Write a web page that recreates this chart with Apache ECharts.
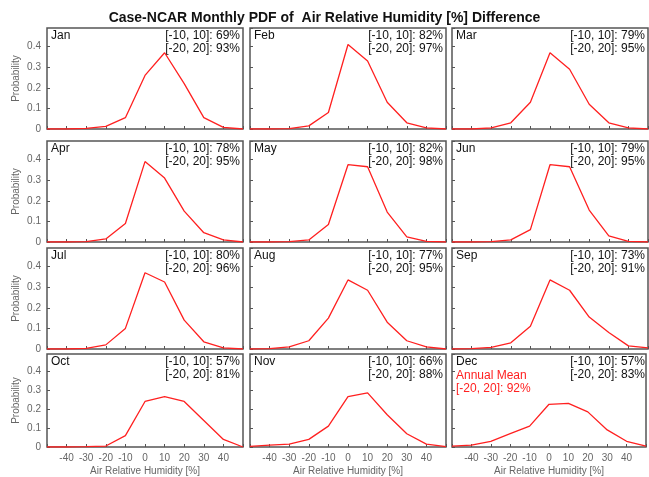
<!DOCTYPE html>
<html><head><meta charset="utf-8">
<script src="https://cdn.jsdelivr.net/npm/echarts@6/dist/echarts.min.js"></script>
<style>html,body{margin:0;padding:0;background:#fff}#c{width:649px;height:477px}</style>
</head><body><div id="c"></div>
<script>
const xValues = [-50,-40,-30,-20,-10,0,10,20,30,40,50];
const xTicks = [-40,-30,-20,-10,0,10,20,30,40];
const yTicks = [0,0.1,0.2,0.3,0.4];
const months = ['Jan','Feb','Mar','Apr','May','Jun','Jul','Aug','Sep','Oct','Nov','Dec'];
const pct10 = [69,82,79,78,82,79,80,77,73,57,66,57];
const pct20 = [93,97,95,95,98,95,96,95,91,81,88,83];
const jan = [0,0,0.003,0.013,0.055,0.26,0.37,0.22,0.055,0.008,0];
const feb = [0,0,0.002,0.015,0.08,0.41,0.33,0.13,0.03,0.005,0];
const mar = [0,0,0.005,0.03,0.13,0.37,0.29,0.12,0.03,0.005,0];
const apr = [0,0,0.002,0.015,0.09,0.39,0.31,0.15,0.045,0.01,0];
const may = [0,0,0.002,0.01,0.085,0.375,0.365,0.145,0.025,0.003,0];
const jun = [0,0,0.002,0.01,0.06,0.375,0.365,0.155,0.03,0.003,0];
const jul = [0,0,0.003,0.02,0.1,0.37,0.325,0.14,0.035,0.005,0];
const aug = [0,0.002,0.01,0.04,0.15,0.335,0.285,0.13,0.04,0.01,0];
const sep = [0,0.002,0.008,0.03,0.11,0.335,0.285,0.155,0.08,0.015,0.005];
const oct = [0,0,0.002,0.005,0.06,0.24,0.265,0.24,0.14,0.04,0];
const nov = [0.003,0.01,0.015,0.04,0.11,0.265,0.285,0.17,0.07,0.015,0.002];
const dec = [0.005,0.01,0.03,0.07,0.11,0.225,0.23,0.185,0.09,0.03,0.005];
const allData = [jan,feb,mar,apr,may,jun,jul,aug,sep,oct,nov,dec];
const annualMean = 92;

const colL = [47,250,452], colW = 196;
const rowT = [28,141,248,354], rowH = 101;
const grids=[],xAxes=[],yAxes=[],series=[],graphics=[];
const F = 'Liberation Sans, Arial, sans-serif';
allData.forEach((d,i)=>{
  const r=Math.floor(i/3), c=i%3;
  grids.push({left:colL[c],top:rowT[r],width:colW,height:rowH,show:true,borderColor:'#555',borderWidth:1.5,containLabel:false});
  const bottom = r===3, left = c===0;
  xAxes.push({type:'value',gridIndex:i,min:-50,max:50,interval:10,
    axisLine:{show:false,onZero:false},axisTick:{show:true,inside:true,length:3,lineStyle:{color:'#555'}},splitLine:{show:false},
    axisLabel:{show:bottom,color:'#666',fontSize:10,fontFamily:F,margin:6,formatter:v=>xTicks.includes(v)?String(v):''},
    name:bottom?'Air Relative Humidity [%]':'',nameLocation:'middle',nameGap:19,nameTextStyle:{color:'#666',fontSize:10,fontFamily:F}});
  yAxes.push({type:'value',gridIndex:i,min:0,max:0.49,interval:0.1,
    axisLine:{show:false,onZero:false},axisTick:{show:true,inside:true,length:3,lineStyle:{color:'#555'}},splitLine:{show:false},
    axisLabel:{show:left,color:'#666',fontSize:10,fontFamily:F,margin:6,showMaxLabel:false,formatter:v=>yTicks.includes(Math.round(v*10)/10)?String(Math.round(v*10)/10):''},
    name:left?'Probability':'',nameLocation:'middle',nameGap:26,nameTextStyle:{color:'#666',fontSize:10,fontFamily:F}});
  series.push({type:'line',xAxisIndex:i,yAxisIndex:i,data:xValues.map((x,k)=>[x,d[k]]),symbol:'none',
    lineStyle:{color:'#ff2020',width:1.3},silent:true});
  const x0=colL[c], y0=rowT[r];
  graphics.push({type:'text',left:x0+4,top:y0+2,style:{text:months[i],fontSize:12,fontFamily:F,fill:'#111'}});
  graphics.push({type:'text',right:649-(x0+colW)+3,top:y0+1,style:{text:'[-10, 10]: '+pct10[i]+'%\n[-20, 20]: '+pct20[i]+'%',fontSize:12,lineHeight:13,fontFamily:F,fill:'#111',align:'right'}});
  if(i===11) graphics.push({type:'text',left:x0+4,top:y0+15,style:{text:'Annual Mean\n[-20, 20]: '+annualMean+'%',fontSize:12,lineHeight:13,fontFamily:F,fill:'#ff2020'}});
});
const chart = echarts.init(document.getElementById('c'));
chart.setOption({animation:false,
  title:{text:'Case-NCAR Monthly PDF of  Air Relative Humidity [%] Difference',left:'center',top:6,textStyle:{fontSize:14,fontWeight:'bold',fontFamily:F,color:'#111'}},
  grid:grids,xAxis:xAxes,yAxis:yAxes,series:series,graphic:graphics});
</script></body></html>
